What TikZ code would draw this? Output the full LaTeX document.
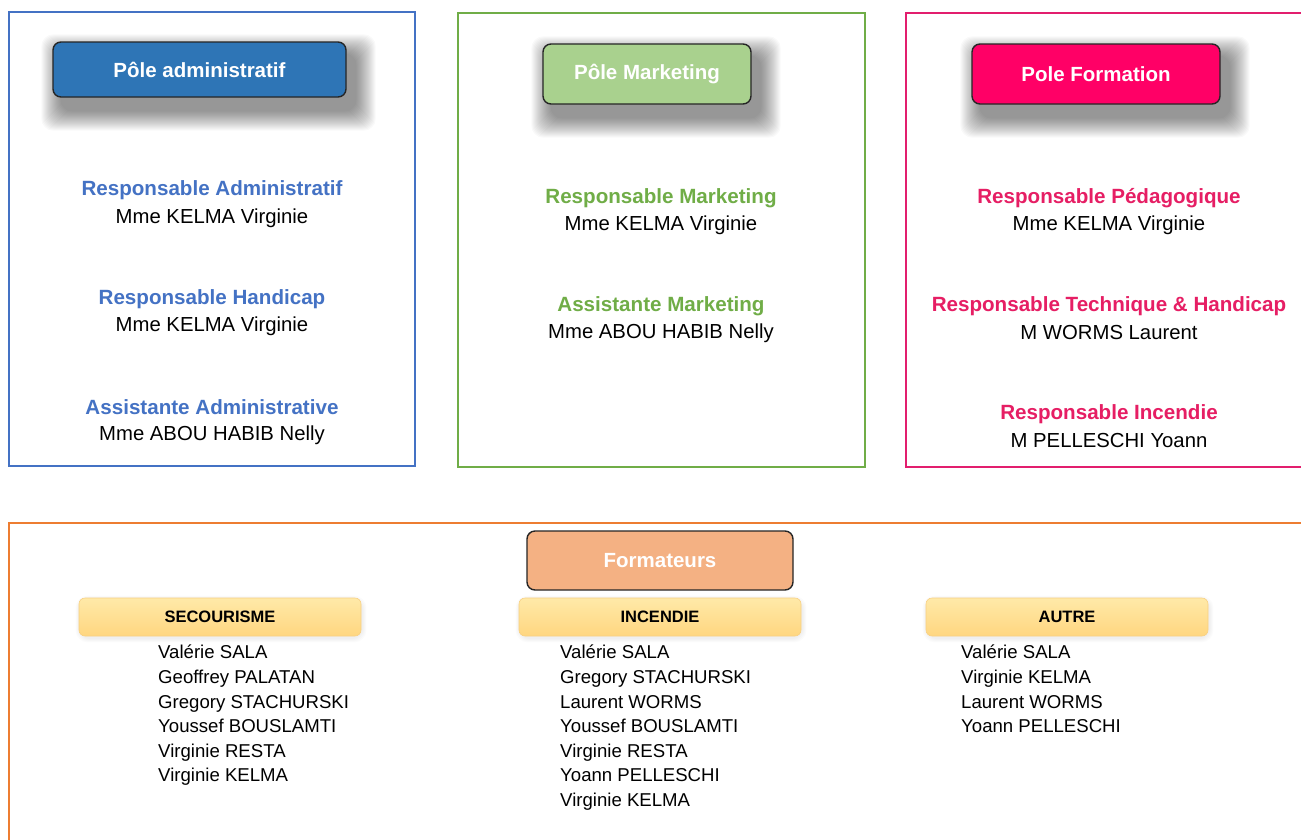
\documentclass[tikz,border=0pt]{standalone}
\usepackage{fontspec}
\setmainfont{Liberation Sans}
\usetikzlibrary{positioning}
\pgfdeclarelayer{paper}
\pgfdeclarelayer{bg}
\pgfsetlayers{paper,bg,main}

\definecolor{admline}{RGB}{68,114,196}
\definecolor{admfill}{RGB}{46,117,182}
\definecolor{mkline}{RGB}{112,173,71}
\definecolor{mkfill}{RGB}{169,209,142}
\definecolor{fmline}{RGB}{226,30,110}
\definecolor{fmtext}{RGB}{230,30,100}
\definecolor{fmfill}{RGB}{255,0,102}
\definecolor{orline}{RGB}{237,125,49}
\definecolor{orfill}{RGB}{244,177,131}
\definecolor{tabtop}{RGB}{255,233,168}
\definecolor{tabbot}{RGB}{255,214,128}
\definecolor{tabedge}{RGB}{248,208,130}
\definecolor{edge}{RGB}{38,38,38}

\tikzset{
  polebox/.style={draw=#1, line width=2.5pt},
  titlebox/.style={draw=edge, line width=1.4pt, fill=#1, rounded corners=8pt,
    text=white, font=\fontsize{20.5}{24}\selectfont\bfseries, inner sep=0pt},
  role/.style={text=#1, font=\fontsize{20.6}{24}\selectfont\bfseries, inner sep=0pt},
  person/.style={text=black, font=\fontsize{20.3}{24}\selectfont, inner sep=0pt},
  tabbox/.style={draw=tabedge, line width=0.6pt, top color=tabtop, bottom color=tabbot,
    rounded corners=6pt, minimum width=282pt, minimum height=38pt, inner sep=0pt,
    font=\fontsize{16.5}{19}\selectfont\bfseries},
  namelist/.style={anchor=north west, align=left, inner sep=0pt,
    font=\fontsize{18.6}{24.6}\selectfont}
}

% soft drop shadow behind a named node: node, x offset, y offset (downwards), opacity, layers
\newcommand\dropshade[5]{%
  \begin{pgfonlayer}{bg}
    \foreach \i in {1,...,#5}{
      \fill[black, opacity=#4, rounded corners=12pt]
        ([shift={(#2-\i,#3-\i)}]#1.north west) rectangle ([shift={(#2+\i,#3+\i)}]#1.south east);
    }
  \end{pgfonlayer}}

\begin{document}
\begin{tikzpicture}[x=1pt, y=-1pt]
  \clip (0,0) rectangle (1301,839);
  \begin{pgfonlayer}{paper}
    \fill[white] (0,0) rectangle (1301,839);
  \end{pgfonlayer}

  % ---- frames of the three departments and of the trainers ----
  \draw[polebox=admline] (9,12) rectangle (415,466);
  \draw[polebox=mkline] (458,13) rectangle (865,467);
  \draw[polebox=fmline] (906,13) rectangle (1320,467);
  \draw[polebox=orline] (9,523) rectangle (1320,860);

  % ---- department titles ----
  \node[titlebox=admfill, minimum width=293pt, minimum height=55pt] (tadm) at (199.5,69.5) {Pôle administratif};
  \dropshade{tadm}{9}{13}{0.022}{20}
  \node[titlebox=mkfill, minimum width=208pt, minimum height=60pt] (tmk) at (647,74) {Pôle Marketing};
  \dropshade{tmk}{9}{13}{0.022}{20}
  \node[titlebox=fmfill, minimum width=248pt, minimum height=60pt] (tfm) at (1096,74) {Pole Formation};
  \dropshade{tfm}{9}{13}{0.022}{20}

  % ---- administrative staff ----
  \node[role=admline] (a1) at (212,190) {Responsable Administratif};
  \node[person] (a1n) at (212,218) {Mme KELMA Virginie};
  \node[role=admline] (a2) at (212,299) {Responsable Handicap};
  \node[person] (a2n) at (212,326) {Mme KELMA Virginie};
  \node[role=admline] (a3) at (212,407) {Assistante Administrative};
  \node[person] (a3n) at (212,435) {Mme ABOU HABIB Nelly};

  % ---- marketing staff ----
  \node[role=mkline] (m1) at (661,198) {Responsable Marketing};
  \node[person] (m1n) at (661,225) {Mme KELMA Virginie};
  \node[role=mkline] (m2) at (661,306) {Assistante Marketing};
  \node[person] (m2n) at (661,333) {Mme ABOU HABIB Nelly};

  % ---- training staff ----
  \node[role=fmtext] (f1) at (1109,198) {Responsable Pédagogique};
  \node[person] (f1n) at (1109,225) {Mme KELMA Virginie};
  \node[role=fmtext] (f2) at (1109,306) {Responsable Technique \& Handicap};
  \node[person] (f2n) at (1109,333) {M WORMS Laurent};
  \node[role=fmtext] (f3) at (1109,414) {Responsable Incendie};
  \node[person] (f3n) at (1109,441) {M PELLESCHI Yoann};

  % ---- trainers ----
  \node[titlebox=orfill, minimum width=266pt, minimum height=59pt] (tor) at (660,560.5) {Formateurs};

  \node[tabbox] (sec) at (220,617) {SECOURISME};
  \dropshade{sec}{1}{2}{0.015}{4}
  \node[tabbox] (inc) at (660,617) {INCENDIE};
  \dropshade{inc}{1}{2}{0.015}{4}
  \node[tabbox] (aut) at (1067,617) {AUTRE};
  \dropshade{aut}{1}{2}{0.015}{4}

  \node[namelist] (lsec) at (158,645) {Valérie SALA\\Geoffrey PALATAN\\Gregory STACHURSKI\\Youssef BOUSLAMTI\\Virginie RESTA\\Virginie KELMA};
  \node[namelist] (linc) at (560,645) {Valérie SALA\\Gregory STACHURSKI\\Laurent WORMS\\Youssef BOUSLAMTI\\Virginie RESTA\\Yoann PELLESCHI\\Virginie KELMA};
  \node[namelist] (laut) at (961,645) {Valérie SALA\\Virginie KELMA\\Laurent WORMS\\Yoann PELLESCHI};
\end{tikzpicture}
\end{document}
